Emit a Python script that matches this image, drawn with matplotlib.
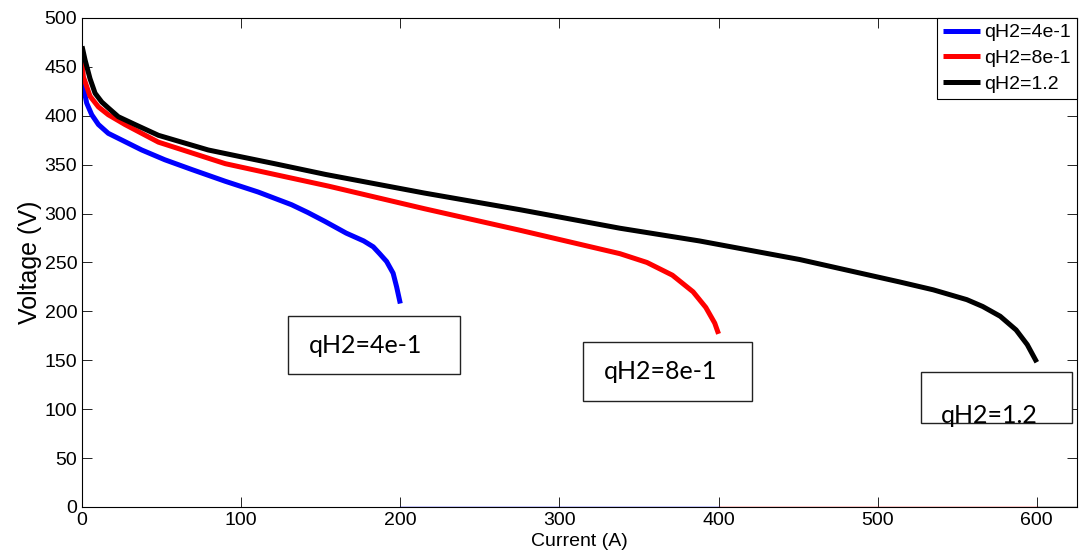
import matplotlib
matplotlib.use('agg')
import matplotlib.pyplot as plt
from matplotlib.patches import Rectangle

## data
blue_i = [0, 0.8, 2.9, 6.1, 10.3, 16.5, 27, 37.5, 52, 69, 90, 110.7, 131.7, 142, 152.6,
          166, 177, 183, 187, 191.4, 195.5, 197.7, 200]
blue_v = [447, 430, 413, 401, 391, 382, 373.5, 365, 355, 345, 333, 322, 309, 301, 292,
          280, 272, 266, 259, 251, 239, 225, 208]

red_i = [0, 0.8, 5, 10.3, 16.5, 27, 48, 69, 90, 121, 155, 215, 275, 338, 355, 371,
         384, 392, 397.6, 400]
red_v = [460, 440, 420, 409, 401, 391, 373, 362, 351, 340, 328, 305, 283, 259, 250, 237,
         220, 204, 188, 177]

black_i = [0, 1.9, 5, 8.2, 12.4, 16.5, 22.8, 33.3, 48, 64.7, 79.3, 100, 121, 153, 215,
           275, 338, 388, 451, 514, 535, 556, 566, 577, 587, 594, 600]
black_v = [471, 457, 438, 423, 414, 408, 399, 391, 380, 372, 365, 358, 351, 340, 321,
           304, 285, 272, 253, 230, 222, 212, 205, 195, 181, 166, 148]

# zero-voltage tails after each curve ends
blue_tail = [200, 400]
red_tail = [400, 600]
black_tail = [600, 625]

labels = ['qH2=4e-1', 'qH2=8e-1', 'qH2=1.2']
colors = ['#0000ff', '#ff0000', '#000000']

plt.rcParams['font.family'] = ['Liberation Sans', 'DejaVu Sans']

fig = plt.figure(figsize=(10.81, 5.57), dpi=100)
ax = fig.add_axes([0.0759, 0.0898, 0.920, 0.878])

for xs, ys, tail, c, lab in zip([blue_i, red_i, black_i], [blue_v, red_v, black_v],
                                [blue_tail, red_tail, black_tail], colors, labels):
    ax.plot(xs, ys, color=c, lw=3.6, label=lab, solid_capstyle='butt', solid_joinstyle='round')
    ax.plot(tail, [0, 0], color=c, lw=1.0)

ax.set_xlim(0, 625)
ax.set_ylim(0, 500)
ax.set_xticks(range(0, 601, 100))
ax.set_yticks(range(0, 501, 50))
ax.tick_params(direction='in', length=7, width=0.6, top=True, right=True,
               labelsize=14, colors='black')
for s in ax.spines.values():
    s.set_linewidth(0.8)
ax.set_xlabel('Current (A)', fontsize=14, labelpad=3)
ax.set_ylabel('Voltage (V)', fontsize=18, labelpad=2)

leg = ax.legend(loc='upper right', fontsize=14, handlelength=1.9, handletextpad=0.2,
                borderpad=0.3, labelspacing=0.42, borderaxespad=0.0, fancybox=False,
                framealpha=1)
leg.get_frame().set_edgecolor('black')
leg.get_frame().set_linewidth(0.8)
for h in leg.get_lines():
    h.set_linewidth(3.6)

# annotation boxes (data coords): x0, y0, width, height, text x, text y
boxes = [
    (129.6, 135.6, 107.8, 60.1, 178, 164.6),
    (314.9, 108.7, 106.1, 60.3, 363.7, 138.3),
    (527.0, 86.2, 94.9, 51.5, 570, 94.0),
]
for (x0, y0, w, h, tx, ty), lab in zip(boxes, labels):
    r = Rectangle((x0, y0), w, h, facecolor='white', edgecolor='#222222', lw=1.0, zorder=4)
    ax.add_patch(r)
    t = ax.text(tx, ty, lab, fontsize=18, family='Lato', ha='center', va='center', zorder=5)
    t.set_clip_path(r)

plt.savefig('out.png', dpi=100)
